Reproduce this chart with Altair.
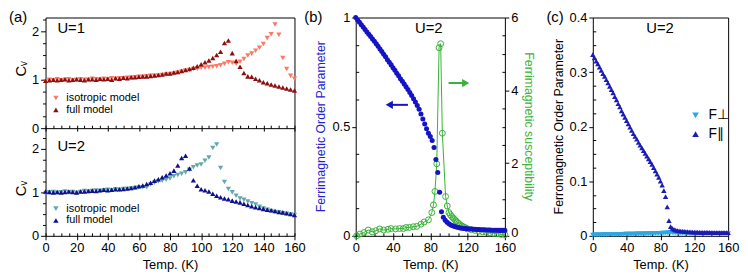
import altair as alt
import pandas as pd

FONT = "Liberation Sans"

# ---------------- panel (a): specific heat ----------------
TEMP_A = [0, 2.5, 5, 7.5, 10, 12.5, 15, 17.5, 20, 22.5,
          25, 27.5, 30, 32.5, 35, 37.5, 40, 42.5, 45, 47.5,
          50, 52.5, 55, 57.5, 60, 62.5, 65, 67.5, 70, 72.5,
          75, 77.5, 80, 82.5, 85, 87.5, 90, 92.5, 95, 97.5,
          100, 102.5, 105, 107.5, 110, 112.5, 115, 117.5, 120, 122.5,
          125, 127.5, 130, 132.5, 135, 137.5, 140, 142.5, 145, 147.5,
          150, 152.5, 155, 157.5, 160]
CV_U1_ISO = [0.97, 1.00, 0.99, 1.01, 0.99, 1.00, 1.01, 0.99, 1.00, 1.01,
             1.00, 1.00, 1.02, 1.01, 1.00, 1.02, 1.01, 1.03, 1.02, 1.03,
             1.03, 1.04, 1.04, 1.05, 1.06, 1.06, 1.07, 1.08, 1.08, 1.09,
             1.10, 1.11, 1.12, 1.13, 1.15, 1.17, 1.19, 1.20, 1.22, 1.23,
             1.25, 1.25, 1.26, 1.27, 1.28, 1.30, 1.33, 1.36, 1.35, 1.33,
             1.37, 1.43, 1.50, 1.54, 1.60, 1.66, 1.74, 1.86, 1.94, 2.14,
             1.93, 1.45, 1.22, 1.08, 1.02]
CV_U1_FULL = [0.98, 0.99, 1.00, 0.99, 1.00, 1.01, 0.99, 1.00, 1.01, 1.00,
              0.99, 1.01, 1.01, 1.00, 1.02, 1.01, 1.02, 1.00, 1.03, 1.02,
              1.04, 1.03, 1.05, 1.05, 1.06, 1.07, 1.07, 1.08, 1.09, 1.10,
              1.11, 1.13, 1.13, 1.15, 1.16, 1.18, 1.20, 1.22, 1.25, 1.28,
              1.32, 1.36, 1.40, 1.45, 1.51, 1.58, 1.76, 1.81, 1.55, 1.39,
              1.27, 1.14, 1.07, 1.06, 1.02, 0.99, 0.95, 0.93, 0.90, 0.88,
              0.86, 0.84, 0.82, 0.80, 0.78]
CV_U2_ISO = [0.97, 1.00, 1.01, 0.99, 1.00, 1.02, 1.00, 1.01, 0.99, 1.01,
             1.03, 1.02, 1.03, 1.04, 1.03, 1.05, 1.06, 1.05, 1.07, 1.06,
             1.08, 1.08, 1.09, 1.10, 1.11, 1.12, 1.12, 1.18, 1.22, 1.25,
             1.27, 1.29, 1.32, 1.37, 1.40, 1.43, 1.46, 1.52, 1.58, 1.62,
             1.64, 1.73, 1.80, 2.02, 2.10, 1.56, 1.24, 1.08, 1.00, 0.92,
             0.86, 0.83, 0.79, 0.75, 0.72, 0.67, 0.63, 0.60, 0.57, 0.55,
             0.54, 0.52, 0.51, 0.49, 0.48]
CV_U2_FULL = [1.02, 1.01, 1.00, 1.01, 1.00, 1.01, 1.02, 1.01, 1.00, 1.02,
              1.02, 1.03, 1.04, 1.03, 1.05, 1.06, 1.05, 1.06, 1.07, 1.07,
              1.08, 1.09, 1.10, 1.12, 1.14, 1.16, 1.19, 1.22, 1.27, 1.30,
              1.35, 1.39, 1.44, 1.50, 1.62, 1.79, 1.84, 1.55, 1.28, 1.15,
              1.07, 1.05, 1.02, 0.97, 0.92, 0.89, 0.86, 0.84, 0.81, 0.79,
              0.77, 0.74, 0.71, 0.68, 0.66, 0.64, 0.62, 0.60, 0.59, 0.57,
              0.55, 0.54, 0.52, 0.50, 0.48]
SERIES_A = ["isotropic model", "full model"]
COLORS_A_U1 = ["#ff7864", "#8c1010"]
COLORS_A_U2 = ["#62a8ac", "#10108c"]

# ---------------- panel (b): ferrimagnetic order ----------------
TEMP_B = [0, 2, 4, 6, 8, 10, 12, 14, 16, 18,
          20, 22, 24, 26, 28, 30, 32, 34, 36, 38,
          40, 42, 44, 46, 48, 50, 52, 54, 56, 58,
          60, 62, 64, 66, 68, 70, 72, 74, 76, 78,
          80, 82, 84, 86, 88, 90, 92, 94, 96, 98,
          100, 102, 104, 106, 108, 110, 112, 114, 116, 118,
          120, 122, 124, 126, 128, 130, 132, 134, 136, 138,
          140, 142, 144, 146, 148, 150, 152, 154, 156, 158,
          160]
ORDER_B = [1.000, 0.989, 0.978, 0.967, 0.956, 0.945, 0.934, 0.923, 0.913, 0.902,
           0.891, 0.880, 0.868, 0.856, 0.844, 0.832, 0.820, 0.807, 0.795, 0.783,
           0.770, 0.758, 0.745, 0.733, 0.720, 0.708, 0.695, 0.683, 0.670, 0.657,
           0.643, 0.628, 0.613, 0.597, 0.580, 0.558, 0.535, 0.512, 0.490, 0.470,
           0.455, 0.437, 0.405, 0.350, 0.290, 0.200, 0.110, 0.085, 0.071, 0.062,
           0.055, 0.050, 0.046, 0.043, 0.040, 0.038, 0.036, 0.035, 0.034, 0.033,
           0.032, 0.031, 0.031, 0.030, 0.030, 0.029, 0.029, 0.028, 0.028, 0.028,
           0.027, 0.027, 0.027, 0.026, 0.026, 0.026, 0.026, 0.025, 0.025, 0.025,
           0.025]
TEMP_CHI = [1, 4.6, 8.8, 13.4, 17.6, 21.5, 25.7, 30, 34.6, 38,
            42.7, 47, 51, 54, 57.6, 61.8, 65.4, 70, 73.4, 78,
            81.6, 83.4, 85, 86.9, 89.4, 91.1, 92.9, 96.4, 98.2, 100,
            101.5, 103, 104.5, 106, 107.5, 109, 110.5, 112, 114, 116,
            118, 120, 124, 128, 132, 136, 140, 144, 148, 152,
            156, 160]
CHI_B = [0.00, 0.05, 0.09, 0.16, 0.11, 0.14, 0.19, 0.16, 0.18, 0.20,
         0.19, 0.20, 0.20, 0.23, 0.23, 0.25, 0.26, 0.32, 0.38, 0.44,
         0.64, 0.85, 1.22, 1.98, 5.17, 5.28, 2.82, 1.08, 0.82, 0.64,
         0.58, 0.53, 0.49, 0.45, 0.41, 0.37, 0.34, 0.30, 0.27, 0.24,
         0.22, 0.19, 0.17, 0.15, 0.13, 0.11, 0.10, 0.08, 0.07, 0.06,
         0.04, 0.03]
# arrows: [tail T, head T, value]
ARROW_ORDER = [56, 36, 0.60]
ARROW_CHI = [99.6, 118, 4.2]

# ---------------- panel (c): ferromagnetic order ----------------
TEMP_C = TEMP_B
F_PERP = [0.0015, 0.0016, 0.0017, 0.0018, 0.0019, 0.0020, 0.0021, 0.0021, 0.0022, 0.0023,
          0.0024, 0.0024, 0.0025, 0.0026, 0.0027, 0.0027, 0.0028, 0.0029, 0.0029, 0.0030,
          0.0031, 0.0031, 0.0032, 0.0033, 0.0033, 0.0034, 0.0035, 0.0035, 0.0036, 0.0037,
          0.0038, 0.0038, 0.0039, 0.0040, 0.0041, 0.0042, 0.0043, 0.0044, 0.0045, 0.0046,
          0.0047, 0.0048, 0.0050, 0.0052, 0.0055, 0.0058, 0.0060, 0.0057, 0.0054, 0.0052,
          0.0051, 0.0050, 0.0049, 0.0048, 0.0048, 0.0047, 0.0047, 0.0046, 0.0046, 0.0046,
          0.0045, 0.0045, 0.0045, 0.0045, 0.0044, 0.0044, 0.0044, 0.0044, 0.0044, 0.0043,
          0.0043, 0.0043, 0.0043, 0.0043, 0.0043, 0.0043, 0.0042, 0.0042, 0.0042, 0.0042,
          0.0042]
F_PAR = [0.332, 0.326, 0.320, 0.315, 0.309, 0.303, 0.297, 0.292, 0.286, 0.280,
         0.274, 0.268, 0.262, 0.255, 0.249, 0.242, 0.236, 0.229, 0.223, 0.217,
         0.211, 0.205, 0.199, 0.193, 0.187, 0.182, 0.177, 0.171, 0.166, 0.161,
         0.156, 0.151, 0.146, 0.141, 0.136, 0.131, 0.125, 0.119, 0.113, 0.107,
         0.100, 0.093, 0.083, 0.072, 0.053, 0.028, 0.017, 0.0135, 0.012, 0.0105,
         0.0098, 0.0092, 0.0088, 0.0084, 0.0080, 0.0078, 0.0076, 0.0074, 0.0072, 0.0070,
         0.0069, 0.0068, 0.0067, 0.0066, 0.0065, 0.0064, 0.0063, 0.0063, 0.0062, 0.0062,
         0.0061, 0.0061, 0.0060, 0.0060, 0.0060, 0.0059, 0.0059, 0.0059, 0.0058, 0.0058,
         0.0058]
SERIES_C = ["F\u22a5", "F\u2225"]
COLORS_C = ["#2aa8e2", "#1c1cb4"]

# ---------------- tick values ----------------
A_X_MAJOR = [0, 20, 40, 60, 80, 100, 120, 140, 160]
A_X_MINOR = [0, 5, 10, 15, 20, 25, 30, 35, 40, 45, 50, 55, 60, 65, 70, 75, 80,
             85, 90, 95, 100, 105, 110, 115, 120, 125, 130, 135, 140, 145, 150, 155, 160]
A_Y_TICKS = [0, 0.25, 0.5, 0.75, 1, 1.25, 1.5, 1.75, 2, 2.25]
BC_X_MAJOR = [0, 40, 80, 120, 160]
BC_X_MINOR = [0, 10, 20, 30, 40, 50, 60, 70, 80, 90, 100, 110, 120, 130, 140, 150, 160]
B_Y1_MAJOR = [0, 0.5, 1]
B_Y1_MINOR = [0.125, 0.25, 0.375, 0.625, 0.75, 0.875]
B_Y2_MAJOR = [0, 2, 4, 6]
B_Y2_MINOR = [0.5, 1, 1.5, 2.5, 3, 3.5, 4.5, 5, 5.5]
C_Y_MAJOR = [0, 0.1, 0.2, 0.3, 0.4]
C_Y_MINOR = [0.025, 0.05, 0.075, 0.125, 0.15, 0.175, 0.225, 0.25, 0.275, 0.325, 0.35, 0.375]

# ---------------- layout ----------------
H = 221
W_A, W_B, W_C = 252, 151, 137
GAP_AB, GAP_BC = 62, 89
A_SPLIT = 112
K_TOP, K_BOT = 49.0, 44.0
A_TOP_DOMAIN = [A_SPLIT / K_TOP - H / K_TOP, A_SPLIT / K_TOP]
A_BOT_DOMAIN = [0, H / K_BOT]

ONE = pd.DataFrame({"k": [0]})


def ax(orient, values=None, **kw):
    base = dict(orient=orient, grid=False, domain=False, title=None,
                labelFlush=False, labelOverlap=False)
    if values is not None:
        base["values"] = values
    base.update(kw)
    return alt.Axis(**base)


def txt(s, x, y, size, **kw):
    props = dict(fontSize=size, font=FONT, align="center", baseline="middle", color="black")
    props.update(kw)
    return alt.Chart(ONE).mark_text(**props).encode(
        x=alt.value(x), y=alt.value(y), text=alt.value(s))


def lin(domain):
    return alt.Scale(domain=domain, nice=False, zero=False)


MAJOR_MINOR = {"condition": {"test": "datum.value % 1 == 0", "value": 5}, "value": 3}
INT_LABELS = "datum.value % 1 == 0 ? format(datum.value, 'd') : ''"
ZERO_UP = {"condition": {"test": "datum.value == 0", "value": -3}, "value": 0}

# ----- panel (a) -----
n = len(TEMP_A)
dfA1 = pd.DataFrame({"T": TEMP_A + TEMP_A, "Cv": CV_U1_ISO + CV_U1_FULL,
                     "model": [SERIES_A[0]] * n + [SERIES_A[1]] * n})
dfA2 = pd.DataFrame({"T": TEMP_A + TEMP_A, "Cv": CV_U2_ISO + CV_U2_FULL,
                     "model": [SERIES_A[0]] * n + [SERIES_A[1]] * n})
xA = lin([0, 160])


def legA(ly):
    return alt.Legend(orient="none", legendX=5, legendY=ly, title=None, direction="vertical",
                      labelFontSize=11, labelFont=FONT, labelColor="black", symbolSize=30,
                      rowPadding=0, padding=0, labelOffset=5, symbolStrokeWidth=0)


a_top = alt.Chart(dfA1).mark_point(filled=True, opacity=1, size=28).encode(
    x=alt.X("T:Q", scale=xA, axis=ax("top", A_X_MINOR, offset=-A_SPLIT, labels=False, tickSize=3,
                                     domain=True, domainColor="black", domainWidth=1)),
    y=alt.Y("Cv:Q", scale=lin(A_TOP_DOMAIN),
            axis=ax("left", A_Y_TICKS, tickSize=MAJOR_MINOR, labelExpr=INT_LABELS)),
    color=alt.Color("model:N", scale=alt.Scale(domain=SERIES_A, range=COLORS_A_U1), legend=legA(76)),
    shape=alt.Shape("model:N", scale=alt.Scale(domain=SERIES_A, range=["triangle-down", "triangle-up"]),
                    legend=legA(76)),
)
a_bot = alt.Chart(dfA2).mark_point(filled=True, opacity=1, size=28).encode(
    x=alt.X("T:Q", scale=xA, axis=ax("bottom", A_X_MAJOR, tickSize=4, title="Temp. (K)", format="d")),
    y=alt.Y("Cv:Q", scale=lin(A_BOT_DOMAIN),
            axis=ax("left", A_Y_TICKS, tickSize=MAJOR_MINOR, labelExpr=INT_LABELS)),
    color=alt.Color("model:N", scale=alt.Scale(domain=SERIES_A, range=COLORS_A_U2), legend=legA(188)),
    shape=alt.Shape("model:N", scale=alt.Scale(domain=SERIES_A, range=["triangle-down", "triangle-up"]),
                    legend=legA(188)),
)
a_in = alt.Chart(dfA2).mark_point(opacity=0).encode(
    x=alt.X("T:Q", scale=xA, axis=ax("top", A_X_MINOR, offset=-H, labels=False, tickSize=3)),
    y=alt.Y("Cv:Q", scale=lin(A_BOT_DOMAIN), axis=None))
a_sep = alt.Chart(dfA2).mark_point(opacity=0).encode(
    x=alt.X("T:Q", scale=xA, axis=ax("bottom", A_X_MAJOR, offset=-(H - A_SPLIT), labels=False, tickSize=3)),
    y=alt.Y("Cv:Q", scale=lin(A_BOT_DOMAIN), axis=None))

panel_a = alt.layer(
    a_in, a_sep, a_top, a_bot,
    txt("(a)", -37, -7, 15, align="left", baseline="top"),
    txt("U=1", 12, 11, 15, align="left"),
    txt("U=2", 12, 130, 15, align="left"),
    txt("C\u1d65", -25, 52, 15, angle=270),
    txt("C\u1d65", -25, 173, 15, angle=270),
).resolve_scale(y="independent", color="independent", shape="independent").resolve_axis(
    x="independent", y="independent").properties(width=W_A, height=H)

# ----- panel (b) -----
BLUE = "#1414c4"
GREEN = "#38b238"
dfB = pd.DataFrame({"T": TEMP_B, "m": ORDER_B})
dfChi = pd.DataFrame({"T": TEMP_CHI, "chi": CHI_B})
dfArrO = pd.DataFrame({"t0": [ARROW_ORDER[0]], "t1": [ARROW_ORDER[1]], "v": [ARROW_ORDER[2]]})
dfArrC = pd.DataFrame({"t0": [ARROW_CHI[0]], "t1": [ARROW_CHI[1]], "v": [ARROW_CHI[2]]})
xB = lin([0, 160])

b_chi_line = alt.Chart(dfChi).mark_line(color=GREEN, strokeWidth=1).encode(
    x=alt.X("T:Q", scale=xB, axis=ax("top", BC_X_MINOR, offset=-H, labels=False, tickSize=3)),
    y=alt.Y("chi:Q", scale=lin([0, 6]),
            axis=ax("right", B_Y2_MAJOR, tickSize=4, format="d", labelOffset=ZERO_UP)),
)
b_chi_pts = alt.Chart(dfChi).mark_point(filled=False, size=36, color=GREEN, strokeWidth=1,
                                        opacity=1).encode(
    x=alt.X("T:Q", scale=xB, axis=None),
    y=alt.Y("chi:Q", scale=lin([0, 6]), axis=None),
)
b_ord = alt.Chart(dfB).mark_circle(size=26, opacity=1, color=BLUE).encode(
    x=alt.X("T:Q", scale=xB, axis=ax("bottom", BC_X_MAJOR, tickSize=4, title="Temp. (K)", format="d")),
    y=alt.Y("m:Q", scale=lin([0, 1]), axis=ax("left", B_Y1_MAJOR, tickSize=4, format=".2~f")),
)
b_min1 = alt.Chart(dfB).mark_point(opacity=0).encode(
    x=alt.X("T:Q", scale=xB, axis=None),
    y=alt.Y("m:Q", scale=lin([0, 1]),
            axis=ax("right", B_Y1_MINOR, offset=-W_B, labels=False, tickSize=3)))
b_min2 = alt.Chart(dfChi).mark_point(opacity=0).encode(
    x=alt.X("T:Q", scale=xB, axis=None),
    y=alt.Y("chi:Q", scale=lin([0, 6]),
            axis=ax("left", B_Y2_MINOR, offset=-W_B, labels=False, tickSize=3)))
arr_o_shaft = alt.Chart(dfArrO).mark_rule(color=BLUE, strokeWidth=2).encode(
    x=alt.X("t0:Q", scale=xB, axis=None), x2="t1:Q",
    y=alt.Y("v:Q", scale=lin([0, 1]), axis=None))
arr_o_head = alt.Chart(dfArrO).mark_point(shape="triangle-left", filled=True, opacity=1, size=70,
                                          color=BLUE).encode(
    x=alt.X("t1:Q", scale=xB, axis=None), y=alt.Y("v:Q", scale=lin([0, 1]), axis=None))
arr_c_shaft = alt.Chart(dfArrC).mark_rule(color=GREEN, strokeWidth=2).encode(
    x=alt.X("t0:Q", scale=xB, axis=None), x2="t1:Q",
    y=alt.Y("v:Q", scale=lin([0, 6]), axis=None))
arr_c_head = alt.Chart(dfArrC).mark_point(shape="triangle-right", filled=True, opacity=1, size=70,
                                          color=GREEN).encode(
    x=alt.X("t1:Q", scale=xB, axis=None), y=alt.Y("v:Q", scale=lin([0, 6]), axis=None))

panel_b = alt.layer(
    b_min1, b_min2, b_chi_line, b_chi_pts, b_ord, arr_o_shaft, arr_o_head, arr_c_shaft, arr_c_head,
    txt("(b)", -52, -7, 15, align="left", baseline="top"),
    txt("U=2", 74, 11, 15),
    txt("Ferrimagnetic Order Parameter", -35, H / 2, 12.5, angle=270, color="#2424cc"),
    txt("Ferrimagnetic susceptibility", W_B + 24, H / 2, 12.5, angle=90, color="#3cb43c"),
).resolve_scale(y="independent").resolve_axis(x="independent", y="independent").properties(
    width=W_B, height=H)

# ----- panel (c) -----
m = len(TEMP_C)
dfC = pd.DataFrame({"T": TEMP_C + TEMP_C, "F": F_PERP + F_PAR,
                    "comp": [SERIES_C[0]] * m + [SERIES_C[1]] * m})
xC = lin([0, 160])
yC = lin([0, 0.4])
legC = alt.Legend(orient="none", legendX=97, legendY=92, title=None, direction="vertical",
                  labelFontSize=14, labelFont=FONT, labelColor="black", symbolSize=45,
                  rowPadding=5, padding=0, labelOffset=6, symbolStrokeWidth=0)
c_pts = alt.Chart(dfC).mark_point(filled=True, opacity=1, size=30).encode(
    x=alt.X("T:Q", scale=xC, axis=ax("bottom", BC_X_MAJOR, tickSize=4, title="Temp. (K)", format="d")),
    y=alt.Y("F:Q", scale=yC, axis=ax("left", C_Y_MAJOR, tickSize=4, format=".2~f")),
    color=alt.Color("comp:N", scale=alt.Scale(domain=SERIES_C, range=COLORS_C), legend=legC),
    shape=alt.Shape("comp:N", scale=alt.Scale(domain=SERIES_C, range=["triangle-down", "triangle-up"]),
                    legend=legC),
)
c_min = alt.Chart(dfC).mark_point(opacity=0).encode(
    x=alt.X("T:Q", scale=xC, axis=ax("top", BC_X_MINOR, offset=-H, labels=False, tickSize=3)),
    y=alt.Y("F:Q", scale=yC, axis=ax("right", C_Y_MINOR, offset=-W_C, labels=False, tickSize=3)),
)
panel_c = alt.layer(
    c_min, c_pts,
    txt("(c)", -47, -7, 15, align="left", baseline="top"),
    txt("U=2", 68, 11, 15),
    txt("Ferromagnetic Order Parameter", -34, H / 2, 12.5, angle=270),
).resolve_axis(x="independent", y="independent").properties(width=W_C, height=H)


def spacer(w):
    return alt.Chart(ONE).mark_point(opacity=0).encode(
        x=alt.value(0), y=alt.value(0)).properties(
        width=w, height=H, view=alt.ViewBackground(stroke="transparent"))


chart = alt.hconcat(
    panel_a, spacer(GAP_AB), panel_b, spacer(GAP_BC), panel_c,
    spacing=0, bounds="flush",
).resolve_scale(color="independent", shape="independent").properties(padding=0).configure(
    font=FONT).configure_view(
    stroke="black", strokeWidth=1).configure_axis(
    labelFont=FONT, labelFontSize=13, labelColor="black", labelPadding=2,
    tickColor="black", tickWidth=1, domainColor="black",
    titleFont=FONT, titleFontSize=13, titleFontWeight="normal", titleColor="black", titlePadding=4,
)

chart.save("out.html", embed_options={"renderer": "svg", "actions": False})
